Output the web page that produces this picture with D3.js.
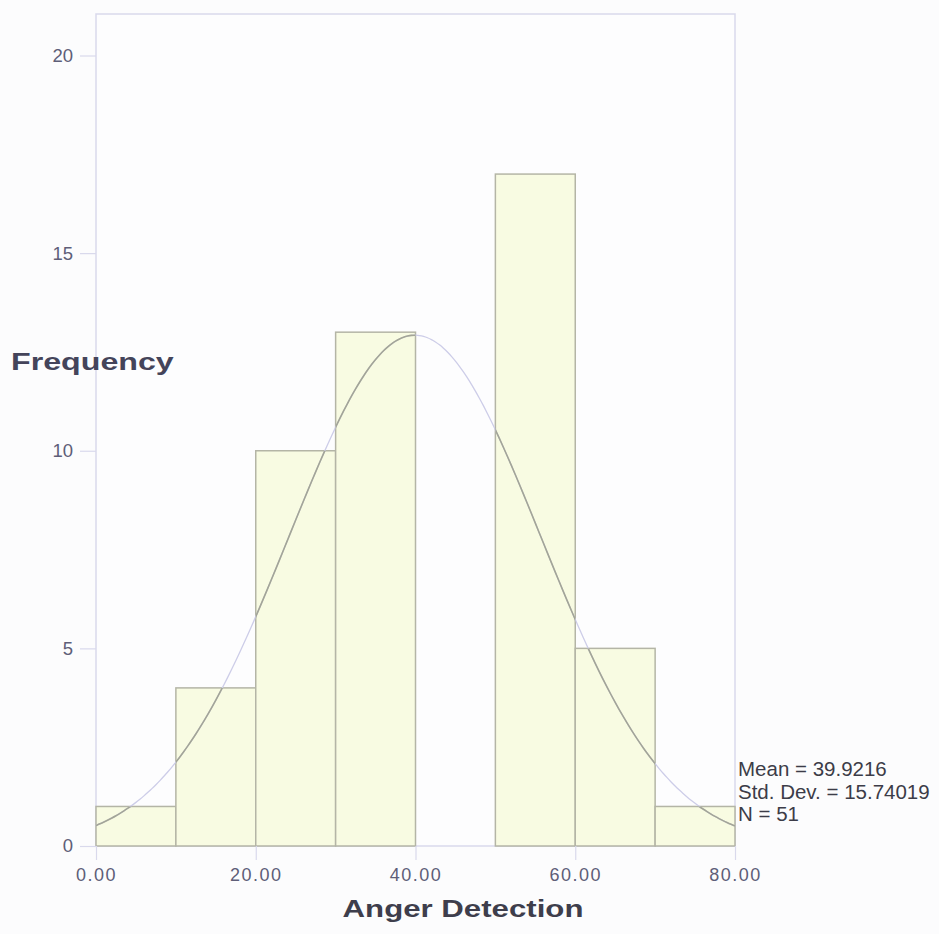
<!DOCTYPE html>
<html>
<head>
<meta charset="utf-8">
<script src="https://cdn.jsdelivr.net/npm/d3@7/dist/d3.min.js"></script>
<style>
  html, body { margin: 0; padding: 0; background: #fcfcfd; }
  svg { display: block; }
  text { font-family: "Liberation Sans", Arial, sans-serif; }
</style>
</head>
<body>
<svg id="chart" width="939" height="934"></svg>
<script>
// Histogram bins of Anger Detection scores (bin width 10)
const binStarts = [0, 10, 20, 30, 40, 50, 60, 70];
const binWidth = 10;
const counts = [1, 4, 10, 13, 0, 17, 5, 1];

// Axis ticks
const xTicks = [0, 20, 40, 60, 80];
const yTicks = [0, 5, 10, 15, 20];

// Summary statistics shown beside the plot
const statMean = 39.9216;
const statSD = 15.74019;
const statN = 51;
const statLabels = ["Mean = 39.9216", "Std. Dev. = 15.74019", "N = 51"];

const xTitle = "Anger Detection";
const yTitle = "Frequency";

const svg = d3.select("#chart");

const plot = { left: 96, right: 735, top: 14, bottom: 846 };

const x = d3.scaleLinear().domain([0, 80]).range([plot.left, plot.right]);
const y = d3.scaleLinear().domain([0, 21.05]).range([plot.bottom, plot.top]);

const frameColor = "#d9d9ec";
const tickTextColor = "#5e5e78";

// Plot frame
svg.append("rect")
  .attr("x", plot.left).attr("y", plot.top)
  .attr("width", plot.right - plot.left).attr("height", plot.bottom - plot.top)
  .attr("fill", "#fdfdfe")
  .attr("stroke", frameColor).attr("stroke-width", 1.5);

// Bars
const bins = binStarts.map((s, i) => ({ x0: s, x1: s + binWidth, n: counts[i] }));
const barData = bins.filter(d => d.n > 0);

const defs = svg.append("defs");
const clip = defs.append("clipPath").attr("id", "barsClip");
clip.selectAll("rect").data(barData).join("rect")
  .attr("x", d => x(d.x0)).attr("y", d => y(d.n))
  .attr("width", d => x(d.x1) - x(d.x0)).attr("height", d => y(0) - y(d.n));

svg.append("g").selectAll("rect").data(barData).join("rect")
  .attr("x", d => x(d.x0)).attr("y", d => y(d.n))
  .attr("width", d => x(d.x1) - x(d.x0)).attr("height", d => y(0) - y(d.n))
  .attr("fill", "#f8fbe2")
  .attr("stroke", "#b4b5a6").attr("stroke-width", 1.5);

// Fitted normal curve scaled to counts: N * width * pdf(x)
const curveXs = d3.range(0, 80.001, 0.5);
const curvePts = curveXs.map(v => {
  const z = (v - statMean) / statSD;
  return [v, statN * binWidth * Math.exp(-0.5 * z * z) / (statSD * Math.sqrt(2 * Math.PI))];
});
const line = d3.line().x(d => x(d[0])).y(d => y(d[1])).curve(d3.curveBasis);

svg.append("path").datum(curvePts)
  .attr("d", line).attr("fill", "none")
  .attr("stroke", "#cdcde8").attr("stroke-width", 1.3);
svg.append("path").datum(curvePts)
  .attr("d", line).attr("fill", "none")
  .attr("clip-path", "url(#barsClip)")
  .attr("stroke", "#a3a597").attr("stroke-width", 1.6);

// Y axis
const yAxis = svg.append("g")
  .attr("transform", `translate(${plot.left},0)`)
  .call(d3.axisLeft(y).tickValues(yTicks).tickSize(16).tickPadding(7).tickFormat(d3.format("d")));
yAxis.select(".domain").remove();
yAxis.selectAll(".tick line").attr("stroke", frameColor).attr("stroke-width", 1.2);
yAxis.selectAll(".tick text")
  .attr("fill", tickTextColor)
  .style("font-size", "18.5px")
  .style("font-family", "'Liberation Sans', Arial, sans-serif");

// X axis
const xAxis = svg.append("g")
  .attr("transform", `translate(0,${plot.bottom})`)
  .call(d3.axisBottom(x).tickValues(xTicks).tickSize(14).tickPadding(8).tickFormat(d3.format(".2f")));
xAxis.select(".domain").remove();
xAxis.selectAll(".tick line").attr("stroke", frameColor).attr("stroke-width", 1.2);
xAxis.selectAll(".tick text")
  .attr("fill", tickTextColor)
  .style("font-size", "18px")
  .style("letter-spacing", "1.5px")
  .style("font-family", "'Liberation Sans', Arial, sans-serif");

// Axis titles
svg.append("text")
  .attr("transform", "translate(11,370) scale(1.4,1)")
  .attr("fill", "#44445a")
  .style("font-size", "23px").style("font-weight", "bold")
  .text(yTitle);

svg.append("text")
  .attr("transform", "translate(463,917) scale(1.3,1)")
  .attr("text-anchor", "middle")
  .attr("fill", "#3e3e4c")
  .style("font-size", "24px").style("font-weight", "bold")
  .text(xTitle);

// Summary statistics
svg.append("g").selectAll("text").data(statLabels).join("text")
  .attr("x", 738)
  .attr("y", (d, i) => 776 + i * 22.5)
  .attr("fill", "#3c3c48")
  .style("font-size", "20.5px")
  .text(d => d);
</script>
</body>
</html>
